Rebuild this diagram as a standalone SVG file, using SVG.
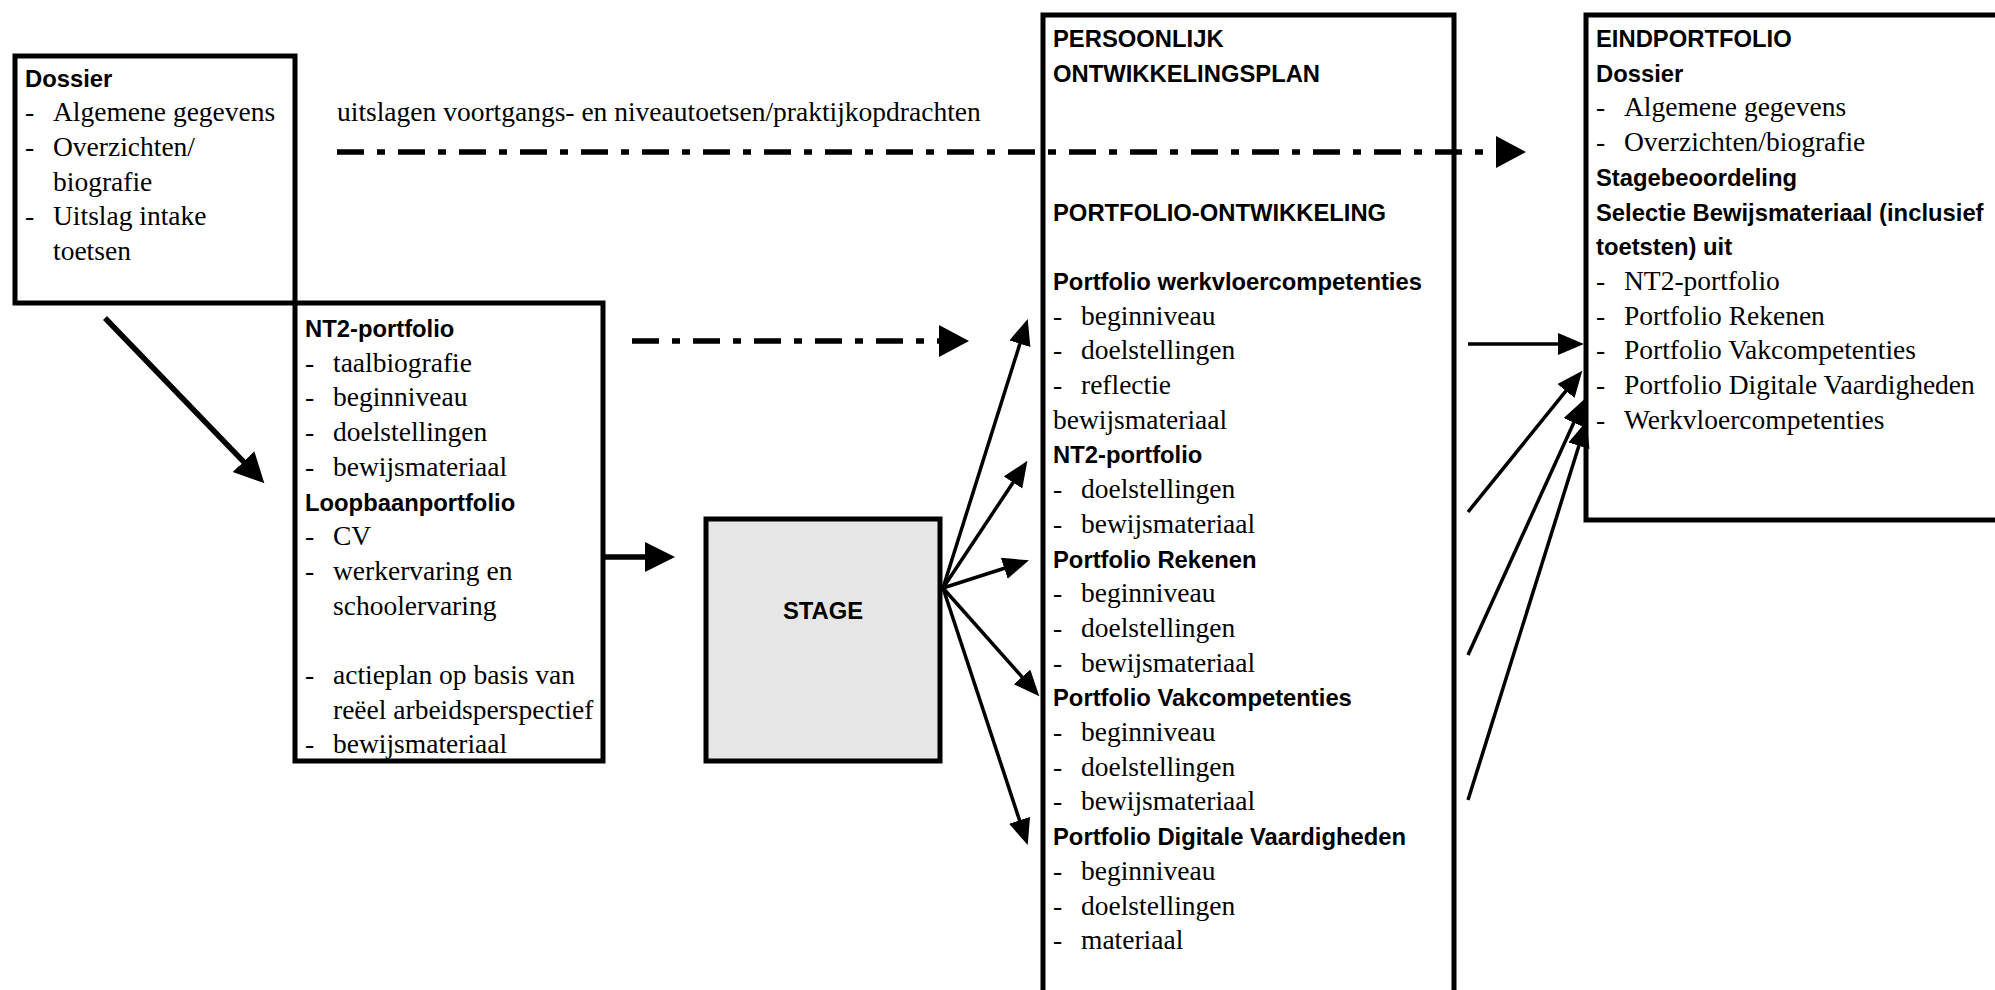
<svg xmlns="http://www.w3.org/2000/svg" width="1995" height="990" viewBox="0 0 1995 990">
<style>
.t{font-family:"Liberation Serif","Times New Roman",serif;font-size:27.5px;fill:#000}
.b{font-family:"Liberation Sans",Arial,sans-serif;font-weight:bold;font-size:23.8px;fill:#000}
.box{fill:#fff;stroke:#000;stroke-width:5}
.stage{fill:#e6e6e6;stroke:#000;stroke-width:5}
.c{stroke:#000;fill:none}
.thick{stroke-width:5.5}
.thin{stroke-width:3.5}
.dd{stroke-width:5.5;stroke-dasharray:27 13 8 13}
</style>
<defs>
<marker id="hBig" markerUnits="userSpaceOnUse" markerWidth="32" markerHeight="32" refX="1" refY="15" orient="auto" viewBox="0 0 32 32">
<path d="M0,0 L30,15 L0,30 Z" fill="#000"/>
</marker>
<marker id="hMed" markerUnits="userSpaceOnUse" markerWidth="28" markerHeight="24" refX="1" refY="11" orient="auto" viewBox="0 0 28 24">
<path d="M0,0 L26,11 L0,22 Z" fill="#000"/>
</marker>
<marker id="hDash" markerUnits="userSpaceOnUse" markerWidth="32" markerHeight="34" refX="1" refY="16" orient="auto" viewBox="0 0 32 34">
<path d="M0,0 L30,16 L0,32 Z" fill="#000"/>
</marker>
</defs>

<g id="dossier">
<rect class="box" x="15" y="56" width="280" height="247"/>
<text class="b" x="25" y="86.5">Dossier</text>
<text class="t" x="25" y="121">-</text><text class="t" x="53" y="121">Algemene gegevens</text>
<text class="t" x="25" y="156">-</text><text class="t" x="53" y="156">Overzichten/</text>
<text class="t" x="53" y="191">biografie</text>
<text class="t" x="25" y="225">-</text><text class="t" x="53" y="225">Uitslag intake</text>
<text class="t" x="53" y="260">toetsen</text>
</g>

<g id="nt2">
<rect class="box" x="295" y="303" width="308" height="458"/>
<text class="b" x="305" y="337">NT2-portfolio</text>
<text class="t" x="305" y="371.7">-</text><text class="t" x="333" y="371.7">taalbiografie</text>
<text class="t" x="305" y="406.4">-</text><text class="t" x="333" y="406.4">beginniveau</text>
<text class="t" x="305" y="441.1">-</text><text class="t" x="333" y="441.1">doelstellingen</text>
<text class="t" x="305" y="475.8">-</text><text class="t" x="333" y="475.8">bewijsmateriaal</text>
<text class="b" x="305" y="510.5">Loopbaanportfolio</text>
<text class="t" x="305" y="545.2">-</text><text class="t" x="333" y="545.2">CV</text>
<text class="t" x="305" y="579.9">-</text><text class="t" x="333" y="579.9">werkervaring en</text>
<text class="t" x="333" y="614.6">schoolervaring</text>
<text class="t" x="305" y="684">-</text><text class="t" x="333" y="684">actieplan op basis van</text>
<text class="t" x="333" y="718.7">reëel arbeidsperspectief</text>
<text class="t" x="305" y="753.4">-</text><text class="t" x="333" y="753.4">bewijsmateriaal</text>
</g>

<g id="stage">
<rect class="stage" x="706" y="519" width="234" height="242"/>
<text class="b" x="823" y="619" text-anchor="middle">STAGE</text>
</g>

<g id="pop">
<rect class="box" x="1043" y="15" width="411" height="1000"/>
<text class="b" x="1053" y="47">PERSOONLIJK</text>
<text class="b" x="1053" y="81.7">ONTWIKKELINGSPLAN</text>
<text class="b" x="1053" y="220.5">PORTFOLIO-ONTWIKKELING</text>
<text class="b" x="1053" y="289.9">Portfolio werkvloercompetenties</text>
<text class="t" x="1053" y="324.6">-</text><text class="t" x="1081" y="324.6">beginniveau</text>
<text class="t" x="1053" y="359.3">-</text><text class="t" x="1081" y="359.3">doelstellingen</text>
<text class="t" x="1053" y="394">-</text><text class="t" x="1081" y="394">reflectie</text>
<text class="t" x="1053" y="428.7">bewijsmateriaal</text>
<text class="b" x="1053" y="463.4">NT2-portfolio</text>
<text class="t" x="1053" y="498.1">-</text><text class="t" x="1081" y="498.1">doelstellingen</text>
<text class="t" x="1053" y="532.8">-</text><text class="t" x="1081" y="532.8">bewijsmateriaal</text>
<text class="b" x="1053" y="567.5">Portfolio Rekenen</text>
<text class="t" x="1053" y="602.2">-</text><text class="t" x="1081" y="602.2">beginniveau</text>
<text class="t" x="1053" y="636.9">-</text><text class="t" x="1081" y="636.9">doelstellingen</text>
<text class="t" x="1053" y="671.6">-</text><text class="t" x="1081" y="671.6">bewijsmateriaal</text>
<text class="b" x="1053" y="706.3">Portfolio Vakcompetenties</text>
<text class="t" x="1053" y="741">-</text><text class="t" x="1081" y="741">beginniveau</text>
<text class="t" x="1053" y="775.7">-</text><text class="t" x="1081" y="775.7">doelstellingen</text>
<text class="t" x="1053" y="810.4">-</text><text class="t" x="1081" y="810.4">bewijsmateriaal</text>
<text class="b" x="1053" y="845.1">Portfolio Digitale Vaardigheden</text>
<text class="t" x="1053" y="879.8">-</text><text class="t" x="1081" y="879.8">beginniveau</text>
<text class="t" x="1053" y="914.5">-</text><text class="t" x="1081" y="914.5">doelstellingen</text>
<text class="t" x="1053" y="949.2">-</text><text class="t" x="1081" y="949.2">materiaal</text>
</g>

<g id="eindportfolio">
<rect class="box" x="1586" y="15" width="430" height="505"/>
<text class="b" x="1596" y="47">EINDPORTFOLIO</text>
<text class="b" x="1596" y="81.7">Dossier</text>
<text class="t" x="1596" y="116.4">-</text><text class="t" x="1624" y="116.4">Algemene gegevens</text>
<text class="t" x="1596" y="151.1">-</text><text class="t" x="1624" y="151.1">Overzichten/biografie</text>
<text class="b" x="1596" y="185.8">Stagebeoordeling</text>
<text class="b" x="1596" y="220.5">Selectie Bewijsmateriaal (inclusief</text>
<text class="b" x="1596" y="255.2">toetsten) uit</text>
<text class="t" x="1596" y="289.9">-</text><text class="t" x="1624" y="289.9">NT2-portfolio</text>
<text class="t" x="1596" y="324.6">-</text><text class="t" x="1624" y="324.6">Portfolio Rekenen</text>
<text class="t" x="1596" y="359.3">-</text><text class="t" x="1624" y="359.3">Portfolio Vakcompetenties</text>
<text class="t" x="1596" y="394">-</text><text class="t" x="1624" y="394">Portfolio Digitale Vaardigheden</text>
<text class="t" x="1596" y="428.7">-</text><text class="t" x="1624" y="428.7">Werkvloercompetenties</text>
</g>

<g id="connectors">
<text class="t" x="337" y="121">uitslagen voortgangs- en niveautoetsen/praktijkopdrachten</text>
<path class="c dd" d="M337,152 L1497,152" marker-end="url(#hDash)"/>
<path class="c dd" d="M632,341 L940,341" marker-end="url(#hDash)"/>
<path class="c thick" d="M105,318 L244.2,462.4" marker-end="url(#hBig)"/>
<path class="c thick" d="M603,557 L646,557" marker-end="url(#hBig)"/>
<path class="c thin" d="M943,588 L1020.2,342.8" marker-end="url(#hMed)"/>
<path class="c thin" d="M943,588 L1013.6,481.7" marker-end="url(#hMed)"/>
<path class="c thin" d="M943,588 L1005.2,568" marker-end="url(#hMed)"/>
<path class="c thin" d="M943,588 L1022.7,677.6" marker-end="url(#hMed)"/>
<path class="c thin" d="M943,588 L1019.9,821.3" marker-end="url(#hMed)"/>
<path class="c thin" d="M1468,344 L1559,344" marker-end="url(#hMed)"/>
<path class="c thin" d="M1468,512 L1566.6,390.2" marker-end="url(#hMed)"/>
<path class="c thin" d="M1468,655 L1574.2,421.7" marker-end="url(#hMed)"/>
<path class="c thin" d="M1468,800 L1579.2,444.8" marker-end="url(#hMed)"/>
</g>
</svg>
